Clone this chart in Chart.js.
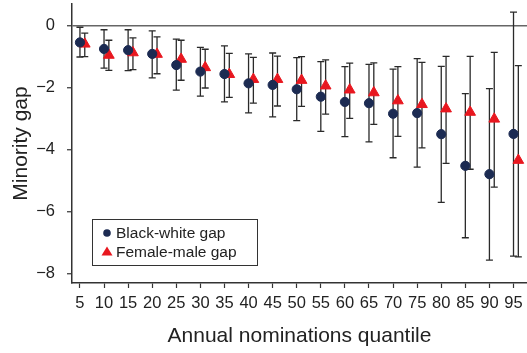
<!DOCTYPE html>
<html>
<head>
<meta charset="utf-8">
<script src="https://cdn.jsdelivr.net/npm/chart.js@4/dist/chart.umd.min.js"></script>
<style>
  html, body { margin: 0; padding: 0; background: #fff; }
  #wrap { width: 527px; height: 353px; }
</style>
</head>
<body>
<div id="wrap"><canvas id="gapChart" width="527" height="353"></canvas></div>
<script>
const quantiles = [5, 10, 15, 20, 25, 30, 35, 40, 45, 50, 55, 60, 65, 70, 75, 80, 85, 90, 95]

const bwGap = [-0.54, -0.75, -0.79, -0.91, -1.27, -1.48, -1.56, -1.86, -1.91, -2.05, -2.29, -2.46, -2.50, -2.84, -2.82, -3.50, -4.52, -4.79, -3.49]
const bwLow = [-1.01, -1.37, -1.45, -1.68, -2.08, -2.27, -2.46, -2.81, -2.94, -3.06, -3.41, -3.58, -3.75, -4.26, -4.56, -5.70, -6.84, -7.56, -7.43]
const bwHigh = [-0.05, -0.13, -0.13, -0.17, -0.43, -0.70, -0.65, -0.91, -0.88, -1.03, -1.16, -1.32, -1.25, -1.40, -1.06, -1.31, -2.19, -2.03, 0.44]

const fmGap = [-0.59, -0.95, -0.87, -0.92, -1.08, -1.35, -1.57, -1.73, -1.73, -1.76, -1.94, -2.07, -2.16, -2.42, -2.54, -2.68, -2.79, -3.01, -4.34]
const fmLow = [-1.00, -1.44, -1.42, -1.55, -1.76, -2.01, -2.31, -2.50, -2.59, -2.60, -2.85, -2.99, -3.18, -3.57, -3.94, -4.44, -4.63, -5.21, -7.46]
const fmHigh = [-0.24, -0.47, -0.39, -0.36, -0.47, -0.76, -0.89, -1.02, -0.98, -1.00, -1.10, -1.21, -1.20, -1.32, -1.18, -0.99, -0.99, -0.86, -1.29]

const yTicks = [-8, -6, -4, -2, 0]
const seriesNames = ["Black-white gap", "Female-male gap"]

// red markers sit a little to the right of each quantile
const fmShift = 1

const navy = "#1c2b52"
const red = "#e8171f"
const font = "'Liberation Sans', Arial, sans-serif"

const bwPoints = quantiles.map((q, i) => ({ x: q, y: bwGap[i], lo: bwLow[i], hi: bwHigh[i] }))
const fmPoints = quantiles.map((q, i) => ({ x: q + fmShift, y: fmGap[i], lo: fmLow[i], hi: fmHigh[i] }))

const errorBars = {
    id: 'errorBars',
    beforeDatasetsDraw(chart) {
        const ctx = chart.ctx
        const xs = chart.scales.x
        const ys = chart.scales.y
        ctx.save()
        ctx.lineWidth = 1.3
        chart.data.datasets.forEach(ds => {
            ctx.strokeStyle = ds.barColor
            ds.data.forEach(p => {
                const px = xs.getPixelForValue(p.x)
                const top = ys.getPixelForValue(p.hi)
                const bot = ys.getPixelForValue(p.lo)
                ctx.beginPath()
                ctx.moveTo(px, top); ctx.lineTo(px, bot)
                ctx.moveTo(px - 3.5, top); ctx.lineTo(px + 3.5, top)
                ctx.moveTo(px - 3.5, bot); ctx.lineTo(px + 3.5, bot)
                ctx.stroke()
            })
        })
        ctx.restore()
    }
}

const boxLegend = {
    id: 'boxLegend',
    afterDraw(chart) {
        const ctx = chart.ctx
        const left = 92, top = 219, w = 165, h = 46
        ctx.save()
        ctx.fillStyle = "#fff"
        ctx.fillRect(left, top, w, h)
        ctx.strokeStyle = "#333"
        ctx.lineWidth = 1
        ctx.strokeRect(left + 0.5, top + 0.5, w, h)
        ctx.font = "15.5px " + font
        ctx.textBaseline = "middle"
        chart.data.datasets.forEach((ds, i) => {
            const cy = top + 14 + i * 18.5
            const mx = left + 15
            ctx.fillStyle = ds.backgroundColor
            ctx.beginPath()
            if (ds.pointStyle === 'triangle') {
                ctx.moveTo(mx, cy - 5); ctx.lineTo(mx + 5.5, cy + 4); ctx.lineTo(mx - 5.5, cy + 4); ctx.closePath()
            } else {
                ctx.arc(mx, cy, 3.8, 0, Math.PI * 2)
            }
            ctx.fill()
            ctx.fillStyle = "#222"
            ctx.fillText(ds.label, left + 24, cy + 1)
        })
        ctx.restore()
    }
}

const ctxGap = document.getElementById("gapChart").getContext("2d")

new Chart(ctxGap, {
    type: 'scatter',
    data: {
        datasets: [
            {
                label: seriesNames[0],
                data: bwPoints,
                backgroundColor: navy,
                borderColor: navy,
                pointStyle: 'circle',
                pointRadius: 4.6,
                barColor: "#2a2a2a"
            },
            {
                label: seriesNames[1],
                data: fmPoints,
                backgroundColor: red,
                borderColor: red,
                pointStyle: 'triangle',
                pointRadius: 6.2,
                barColor: "#2a2a2a"
            }
        ]
    },
    options: {
        responsive: false,
        animation: false,
        layout: { autoPadding: false, padding: { top: 4, right: 0, left: 0, bottom: 0 } },
        plugins: {
            legend: { display: false },
            tooltip: { enabled: false }
        },
        scales: {
            x: {
                type: 'linear',
                min: 3.35,
                max: 97.8,
                afterBuildTicks: s => { s.ticks = quantiles.map(v => ({ value: v })) },
                afterFit: s => { s.height = 70; s.paddingLeft = 0; s.paddingRight = 0 },
                border: { display: true, color: "#333", width: 1.5 },
                grid: { drawOnChartArea: false, tickLength: 5, tickColor: "#333", tickWidth: 1.2 },
                ticks: { autoSkip: false, maxRotation: 0, padding: 6, color: "#222", font: { family: font, size: 16.5 } },
                title: { display: true, text: "Annual nominations quantile", color: "#222", font: { family: font, size: 21 }, padding: { top: 3 } }
            },
            y: {
                min: -8.3,
                max: 0.7,
                afterBuildTicks: s => { s.ticks = yTicks.map(v => ({ value: v })) },
                afterFit: s => { s.width = 72; s.paddingTop = 0; s.paddingBottom = 0 },
                border: { display: true, color: "#333", width: 1.5 },
                grid: {
                    drawOnChartArea: true,
                    color: c => c.tick && c.tick.value === 0 ? "#666" : "rgba(0,0,0,0)",
                    lineWidth: 1.5,
                    tickLength: 5,
                    tickColor: "#333",
                    tickWidth: 1.2
                },
                ticks: {
                    padding: 12,
                    color: "#222",
                    font: { family: font, size: 16.5 },
                    callback: v => String(v).replace('-', '\u2212')
                },
                title: { display: true, text: "Minority gap", color: "#222", font: { family: font, size: 21 }, padding: { top: 9 } }
            }
        }
    },
    plugins: [errorBars, boxLegend]
})
</script>
</body>
</html>
